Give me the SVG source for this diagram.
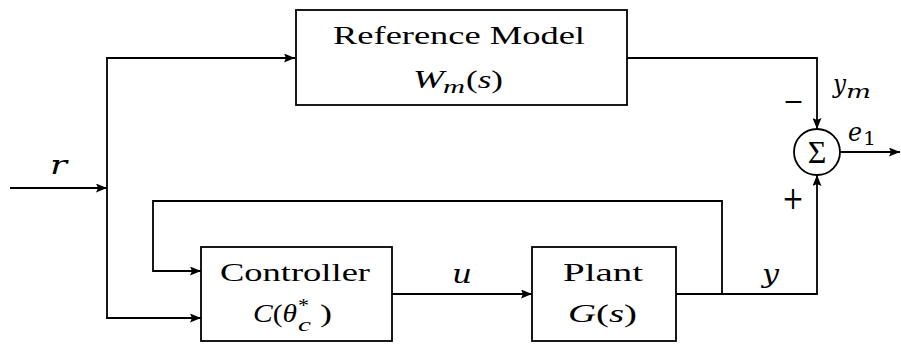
<svg xmlns="http://www.w3.org/2000/svg" width="901" height="344" viewBox="0 0 901 344">
<style>
  .box { fill: #ffffff; stroke: #000000; stroke-width: 1.8; }
  .wire { fill: none; stroke: #000000; stroke-width: 1.8; }
  .t { fill: #000000; font-size: 26px; }
  .it { font-style: italic; }
  .sm { font-size: 18px; }
  .big { font-size: 32px; }
</style>
<defs>
  <marker id="arr" markerUnits="userSpaceOnUse" markerWidth="12" markerHeight="9" refX="11" refY="4.5" orient="auto">
    <path d="M0,0 L11,4.5 L0,9 L2,4.5 z" fill="#000000"/>
  </marker>
</defs>
<rect width="901" height="344" fill="#ffffff"/>

<g id="connectors">
  <path class="wire" d="M10,188 H107" marker-end="url(#arr)"/>
  <path class="wire" d="M107,188 V58 H295" marker-end="url(#arr)"/>
  <path class="wire" d="M107,188 V318 H201" marker-end="url(#arr)"/>
  <path class="wire" d="M722,294 V201 H153 V271 H201" marker-end="url(#arr)"/>
  <path class="wire" d="M392,294 H532" marker-end="url(#arr)"/>
  <path class="wire" d="M676,294 H817 V175" marker-end="url(#arr)"/>
  <path class="wire" d="M627,58 H817 V129" marker-end="url(#arr)"/>
  <path class="wire" d="M840,152 H900" marker-end="url(#arr)"/>
  <g font-family="DejaVu Serif, serif">
  <text class="t it" x="50" y="174" textLength="17" lengthAdjust="spacingAndGlyphs">r</text>
  <text class="t it" x="452" y="283" textLength="20" lengthAdjust="spacingAndGlyphs">u</text>
  <text class="t it" x="762" y="283" textLength="17" lengthAdjust="spacingAndGlyphs">y</text>
  <text class="t it" x="833" y="93" textLength="13" lengthAdjust="spacingAndGlyphs">y</text>
  <text class="t it sm" x="846" y="98" textLength="25" lengthAdjust="spacingAndGlyphs">m</text>
  <text class="t it" x="848" y="141" textLength="14" lengthAdjust="spacingAndGlyphs">e</text>
  <text class="t sm" x="863" y="145" textLength="13" lengthAdjust="spacingAndGlyphs">1</text>
  <text class="t" x="783" y="110" textLength="21" lengthAdjust="spacingAndGlyphs">−</text>
  <text class="t big" x="782" y="209" textLength="22" lengthAdjust="spacingAndGlyphs">+</text>
  </g>
</g>

<g id="reference-model" font-family="Liberation Serif, serif">
  <rect class="box" x="296" y="10" width="331" height="95"/>
  <text class="t" x="333" y="44" textLength="252" lengthAdjust="spacingAndGlyphs">Reference Model</text>
  <text x="413" y="88" class="t it" textLength="31" lengthAdjust="spacingAndGlyphs">W</text>
  <text x="443" y="93" class="t it sm" textLength="22" lengthAdjust="spacingAndGlyphs">m</text>
  <text x="466" y="88" class="t" textLength="37" lengthAdjust="spacingAndGlyphs">(<tspan class="it">s</tspan>)</text>
</g>

<g id="sum" font-family="Liberation Serif, serif">
  <circle class="box" cx="817" cy="152" r="23"/>
  <text class="t big" x="817" y="163" text-anchor="middle">Σ</text>
</g>

<g id="controller" font-family="Liberation Serif, serif">
  <rect class="box" x="201" y="247" width="191" height="94"/>
  <text class="t" x="220" y="281" textLength="150" lengthAdjust="spacingAndGlyphs">Controller</text>
  <text class="t" x="253" y="322" textLength="44" lengthAdjust="spacingAndGlyphs"><tspan class="it">C</tspan>(<tspan class="it">θ</tspan></text>
  <text class="t sm" x="298" y="312" textLength="11" lengthAdjust="spacingAndGlyphs">*</text>
  <text class="t it sm" x="298" y="331" textLength="13" lengthAdjust="spacingAndGlyphs">c</text>
  <text class="t" x="320" y="322" textLength="12" lengthAdjust="spacingAndGlyphs">)</text>
</g>

<g id="plant" font-family="Liberation Serif, serif">
  <rect class="box" x="532" y="247" width="144" height="94"/>
  <text class="t" x="563" y="281" textLength="80" lengthAdjust="spacingAndGlyphs">Plant</text>
  <text class="t" x="568" y="322" textLength="69" lengthAdjust="spacingAndGlyphs"><tspan class="it">G</tspan>(<tspan class="it">s</tspan>)</text>
</g>
</svg>
